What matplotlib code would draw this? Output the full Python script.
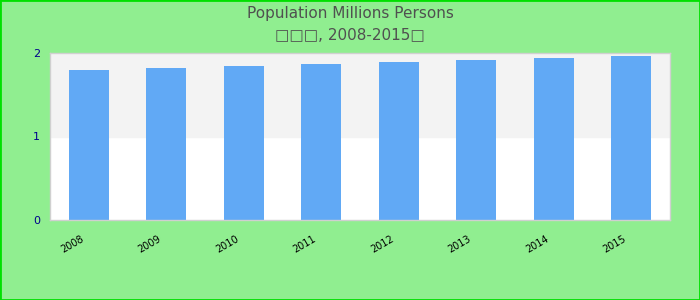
import matplotlib.pyplot as plt
from matplotlib.patches import Rectangle
from matplotlib.transforms import ScaledTranslation

YEARS = ["2008", "2009", "2010", "2011", "2012", "2013", "2014", "2015"]
POPULATION = [1.80, 1.82, 1.845, 1.87, 1.89, 1.915, 1.94, 1.965]
Y_TICKS = [0, 1, 2]
TITLE = "Population Millions Persons"
SUBTITLE = "\u25a1\u25a1\u25a1, 2008-2015\u25a1"


def main():
    fig = plt.figure(figsize=(7, 3), dpi=100, facecolor="#90ee90")
    fig.patches.append(Rectangle((0, 0), 1, 1, transform=fig.transFigure, fill=False,
                                 edgecolor="#00e000", linewidth=2))
    ax = fig.add_axes([50 / 700, 80 / 300, 620 / 700, 167 / 300])
    ax.set_facecolor("white")

    # alternating bands
    ax.axhspan(1, 2, color="#f3f3f3", zorder=0)

    x = range(len(YEARS))
    ax.bar(x, POPULATION, width=0.52, color="#61a9f5", zorder=2)

    ax.set_xlim(-0.5, len(YEARS) - 0.5)
    ax.set_ylim(0, 2)
    ax.set_yticks(Y_TICKS)
    ax.set_yticklabels([str(t) for t in Y_TICKS], color="#00008b", fontsize=8)
    ax.set_xticks(list(x))
    ax.set_xticklabels(YEARS, rotation=30, ha="right", rotation_mode="anchor", fontsize=7)
    ax.tick_params(axis="both", length=0)
    ax.tick_params(axis="y", pad=7)
    ax.tick_params(axis="x", pad=10)
    shift = ScaledTranslation(-6 / 72, 0, fig.dpi_scale_trans)
    for lbl in ax.get_xticklabels():
        lbl.set_transform(lbl.get_transform() + shift)

    for spine in ax.spines.values():
        spine.set_edgecolor("#d0d0d0")
        spine.set_linewidth(1)

    fig.text(0.5, 0.955, TITLE, ha="center", va="center", fontsize=11, color="#505050")
    fig.text(0.5, 0.88, SUBTITLE, ha="center", va="center", fontsize=11, color="#505050")

    fig.savefig("out.png", dpi=100, facecolor=fig.get_facecolor())
    plt.close(fig)


if __name__ == "__main__":
    main()
